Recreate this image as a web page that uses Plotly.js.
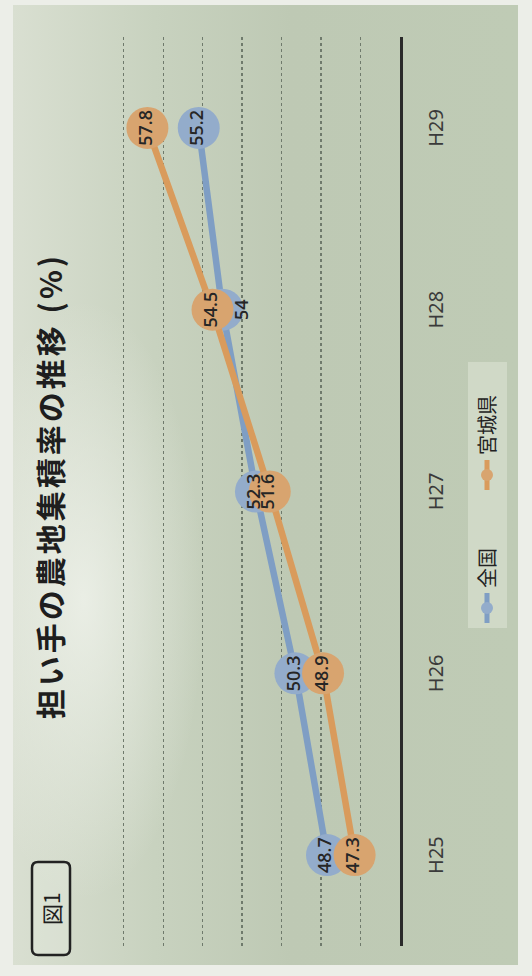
<!DOCTYPE html>
<html>
<head>
<meta charset="utf-8">
<script src="https://cdn.plot.ly/plotly-3.0.1.min.js"></script>
<style>
  html, body { margin:0; padding:0; width:532px; height:976px; overflow:hidden; background:#eceee8; }
  #panel { position:absolute; left:13px; top:5px; width:505px; height:960px;
           background:
             radial-gradient(ellipse 120px 300px at 14% 62%, rgba(240,243,236,0.8), rgba(240,243,236,0) 100%),
             linear-gradient(to right, #d9dfd1 0%, #c8d2bf 28%, #bec9b4 55%, #bfcbb5 100%); }
  #chart { position:absolute; left:0; top:0; width:976px; height:532px;
           transform-origin:0 0; transform: translate(0px, 976px) rotate(-90deg); }
  #chart .gtitle { letter-spacing: 3px; }
</style>
</head>
<body>
<div id="panel"></div>
<div id="chart"></div>
<script>
// ---- data ----
const categories = ['H25', 'H26', 'H27', 'H28', 'H29'];
const zenkoku = [48.7, 50.3, 52.3, 54, 55.2];
const miyagi = [47.3, 48.9, 51.6, 54.5, 57.8];
const seriesNames = ['全国', '宮城県'];
const chartTitle = '担い手の農地集積率の推移 (%)';
const figLabel = '図1';

// ---- styling ----
const blueLine = '#7f9ec4', blueMarker = '#93accb';
const orangeLine = '#d99b5c', orangeMarker = '#d8a46f';
const W = 976, H = 532;
const M = {l:30, r:37, t:104, b:132};
const PW = W - M.l - M.r, PH = H - M.t - M.b;
const px = u => (u - M.l) / PW;
const py = v => (H - M.b - v) / PH;

function roundRect(u0, v0, u1, v1, r) {
  const x0 = px(u0), x1 = px(u1), yT = py(v0), yB = py(v1);
  const rx = r / PW, ry = r / PH;
  return `M${x0+rx},${yT} L${x1-rx},${yT} Q${x1},${yT} ${x1},${yT-ry} L${x1},${yB+ry} Q${x1},${yB} ${x1-rx},${yB} ` +
         `L${x0+rx},${yB} Q${x0},${yB} ${x0},${yB+ry} L${x0},${yT-ry} Q${x0},${yT} ${x0+rx},${yT} Z`;
}

const labelFont = {family:'Open Sans, Noto Sans, sans-serif', size:18, color:'#262626', weight:600};
const hiddenMarker = {size:18, opacity:0};

const traces = [
  { x: categories, y: zenkoku, name: seriesNames[0], type:'scatter', mode:'lines+markers',
    line:{color:blueLine, width:6.5}, marker:{color:blueMarker, size:42, line:{width:0}} },
  { x: categories, y: miyagi, name: seriesNames[1], type:'scatter', mode:'lines+markers',
    line:{color:orangeLine, width:6.5}, marker:{color:orangeMarker, size:42, line:{width:0}} },
  { x: categories, y: zenkoku, type:'scatter', mode:'markers+text', showlegend:false,
    marker: hiddenMarker, text: zenkoku.map(String),
    textposition: ['middle center','middle center','middle center','bottom center','middle center'],
    textfont: labelFont },
  { x: categories, y: miyagi, type:'scatter', mode:'markers+text', showlegend:false,
    marker: hiddenMarker, text: miyagi.map(String), textposition:'middle center', textfont: labelFont }
];

const layout = {
  width: W, height: H,
  margin: {l:M.l, r:M.r, t:M.t, b:M.b, autoexpand:false},
  paper_bgcolor: 'rgba(0,0,0,0)', plot_bgcolor: 'rgba(0,0,0,0)',
  showlegend: true,
  title: { text: chartTitle, xref:'container', x: 0.502, xanchor:'center',
           yref:'container', y: 1 - 51/H, yanchor:'middle',
           font:{family:'Noto Sans CJK JP, sans-serif', size:30, color:'#1e1e1e', weight:'bold'} },
  xaxis: { type:'category', categoryorder:'array', categoryarray: categories, range:[-0.5, 4.5],
           showline:true, linecolor:'#2a2a2a', linewidth:3, showgrid:false, zeroline:false,
           ticks:'', ticklabelstandoff: 16,
           tickfont:{family:'Noto Sans, sans-serif', size:20, color:'#3a3a3a'} },
  yaxis: { range:[45, 60], tick0:45, dtick:2, showticklabels:false, ticks:'',
           showgrid:true, gridcolor:'#6f7a6c', gridwidth:1.3, griddash:'dot', zeroline:false, showline:false },
  legend: { orientation:'h', xref:'container', x: 481/W, xanchor:'center',
            yref:'container', y: 1 - 487/H, yanchor:'middle',
            bgcolor:'rgba(222,230,214,0.55)', borderwidth:0, itemsizing:'constant',
            entrywidth: 88, entrywidthmode:'pixels',
            font:{family:'Noto Sans CJK JP, sans-serif', size:20, color:'#222'} },
  shapes: [
    { type:'path', xref:'paper', yref:'paper', path: roundRect(21, 32, 114, 70, 6),
      line:{color:'#222', width:2.5}, fillcolor:'rgba(230,236,224,0.35)', layer:'above' }
  ],
  annotations: [
    { text: figLabel, xref:'paper', yref:'paper', x: px(67.5), y: py(51), xanchor:'center', yanchor:'middle',
      showarrow:false, font:{family:'Noto Sans CJK JP, sans-serif', size:21, color:'#1e1e1e'} }
  ]
};

Plotly.newPlot('chart', traces, layout, {displayModeBar:false, staticPlot:true});
</script>
</body>
</html>
